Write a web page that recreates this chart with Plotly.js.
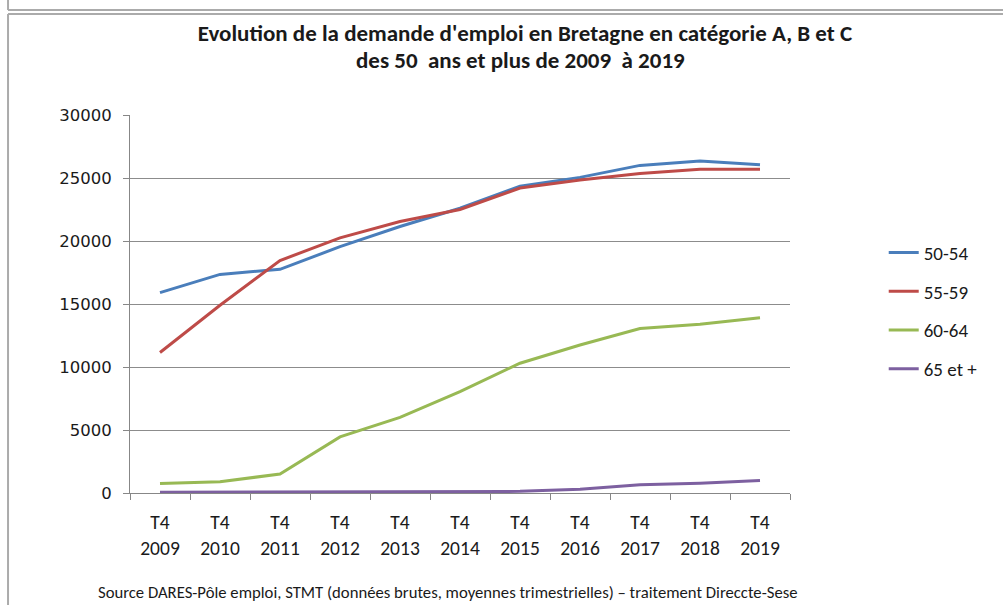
<!DOCTYPE html>
<html>
<head>
<meta charset="utf-8">
<script src="https://cdn.plot.ly/plotly-3.0.1.min.js"></script>
<style>
html,body{margin:0;padding:0;background:#fff;}
#chart{width:1003px;height:605px;}
</style>
</head>
<body>
<div id="chart"></div>
<script>
const categories = ["T4<br>2009","T4<br>2010","T4<br>2011","T4<br>2012","T4<br>2013","T4<br>2014","T4<br>2015","T4<br>2016","T4<br>2017","T4<br>2018","T4<br>2019"];
const seriesNames = ["50-54","55-59","60-64","65 et +"];
const s5054 = [15900, 17350, 17750, 19550, 21150, 22600, 24350, 25050, 26000, 26350, 26050];
const s5559 = [11150, 14900, 18450, 20250, 21550, 22500, 24200, 24850, 25350, 25700, 25700];
const s6064 = [750, 900, 1500, 4450, 6000, 8050, 10300, 11750, 13050, 13400, 13900];
const s65p  = [50, 60, 70, 80, 90, 110, 130, 300, 650, 780, 1000];
const colors = ["#4A7EBB","#BE4B48","#98B954","#7D60A0"];
const titleLine1 = "Evolution de la demande d'emploi en Bretagne en catégorie A, B et C";
const titleLine2 = "des 50  ans et plus de 2009  à 2019";
const sourceText = "Source DARES-Pôle emploi, STMT (données brutes, moyennes trimestrielles) – traitement Direccte-Sese";

const FONT = '"Carlito","Liberation Sans Narrow","DejaVu Sans Condensed","Roboto Condensed",sans-serif';
const allSeries = [s5054, s5559, s6064, s65p];
const traces = allSeries.map((ys, i) => ({
  type: 'scatter', mode: 'lines', name: seriesNames[i],
  x: categories, y: ys, legendgroup: 'g' + i,
  line: {color: colors[i], width: 3}
}));

const layout = {
  width: 1003, height: 605,
  margin: {l: 130, r: 213, t: 115, b: 112},
  paper_bgcolor: '#fff', plot_bgcolor: '#fff',
  showlegend: true,
  title: {
    text: "<b>" + titleLine1 + "</b>",
    font: {family: FONT, size: 23, color: '#1a1a1a'},
    x: 0.5234, xanchor: 'center', xref: 'container',
    y: 0.9455, yanchor: 'middle', yref: 'container'
  },
  xaxis: {
    type: 'category', range: [-0.5, 10.5],
    showline: true, linecolor: '#878787', linewidth: 1,
    ticks: 'outside', ticklen: 6, tickcolor: '#878787', tickson: 'boundaries',
    showgrid: false, zeroline: false, ticklabelstandoff: 12,
    tickfont: {family: FONT, size: 19.5, color: '#1a1a1a'}
  },
  yaxis: {
    range: [0, 30000], dtick: 5000, tickformat: 'd',
    showline: true, linecolor: '#878787', linewidth: 1,
    ticks: 'outside', ticklen: 6, tickcolor: '#878787',
    showgrid: true, gridcolor: '#8c8c8c', gridwidth: 1,
    zeroline: false, ticklabelstandoff: 8,
    tickfont: {family: '"DejaVu Sans", Verdana, sans-serif', size: 16.5, color: '#1a1a1a'}
  },
  legend: {
    x: 1.142, xanchor: 'left', y: 0.686, yanchor: 'top',
    font: {family: FONT, size: 19, color: '#1a1a1a'},
    tracegroupgap: 11, bgcolor: 'rgba(0,0,0,0)'
  },
  annotations: [
    {
      text: "<b>" + titleLine2 + "</b>",
      xref: 'paper', yref: 'paper', x: 0.591, y: 1.1455, xanchor: 'center', yanchor: 'middle',
      showarrow: false, font: {family: FONT, size: 23, color: '#1a1a1a'}
    },
    {
      text: sourceText,
      xref: 'paper', yref: 'paper', x: 0.482, y: -0.262, xanchor: 'center', yanchor: 'middle',
      showarrow: false, font: {family: FONT, size: 16.7, color: '#1a1a1a'}
    }
  ],
  shapes: [
    {type: 'line', xref: 'paper', yref: 'paper', x0: -0.1848, x1: -0.1848, y0: 1.2672, y1: -0.35, line: {color: '#ababab', width: 2}},
    {type: 'line', xref: 'paper', yref: 'paper', x0: -0.1848, x1: 1.33, y0: 1.2672, y1: 1.2672, line: {color: '#ababab', width: 2}},
    {type: 'line', xref: 'paper', yref: 'paper', x0: -0.1848, x1: 1.33, y0: 1.2778, y1: 1.2778, line: {color: '#ababab', width: 2}},
    {type: 'line', xref: 'paper', yref: 'paper', x0: -0.1848, x1: -0.1848, y0: 1.32, y1: 1.2778, line: {color: '#ababab', width: 2}}
  ]
};

Plotly.newPlot('chart', traces, layout, {displayModeBar: false, staticPlot: true});
</script>
</body>
</html>
